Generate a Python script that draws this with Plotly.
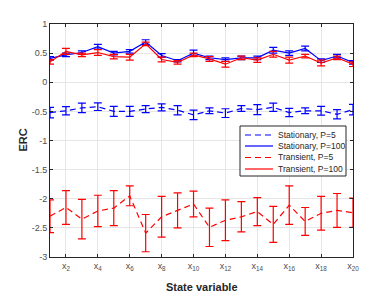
import plotly.graph_objects as go

x_idx = list(range(1, 21))
tick_vals = list(range(2, 21, 2))
tick_text = [f"x<sub>{i}</sub>" for i in tick_vals]
y_tick_vals = [-3, -2.5, -2, -1.5, -1, -0.5, 0, 0.5, 1]
y_tick_text = ["-3", "-2.5", "-2", "-1.5", "-1", "-0.5", "0", "0.5", "1"]

stat_p5 = [-0.52, -0.49, -0.44, -0.42, -0.50, -0.50, -0.46, -0.43, -0.48, -0.56,
           -0.49, -0.53, -0.45, -0.47, -0.43, -0.52, -0.49, -0.49, -0.55, -0.47]
stat_p5_err = [0.09, 0.07, 0.08, 0.065, 0.085, 0.085, 0.06, 0.06, 0.08, 0.08,
               0.05, 0.075, 0.05, 0.085, 0.07, 0.07, 0.05, 0.075, 0.08, 0.09]

stat_p100 = [0.41, 0.47, 0.51, 0.61, 0.50, 0.53, 0.69, 0.46, 0.37, 0.50,
             0.42, 0.39, 0.42, 0.42, 0.55, 0.50, 0.58, 0.37, 0.45, 0.34]
stat_p100_err = [0.03, 0.03, 0.03, 0.04, 0.03, 0.03, 0.04, 0.03, 0.02, 0.05,
                 0.03, 0.03, 0.03, 0.03, 0.05, 0.04, 0.04, 0.03, 0.03, 0.03]

trans_p5 = [-2.30, -2.15, -2.35, -2.21, -2.16, -1.95, -2.59, -2.31, -2.20, -2.09,
            -2.49, -2.37, -2.31, -2.22, -2.44, -2.11, -2.39, -2.25, -2.20, -2.24]
trans_p5_err = [0.28, 0.29, 0.34, 0.27, 0.30, 0.17, 0.32, 0.35, 0.30, 0.22,
                0.33, 0.35, 0.26, 0.24, 0.31, 0.33, 0.24, 0.29, 0.29, 0.25]

trans_p100 = [0.35, 0.53, 0.47, 0.51, 0.44, 0.43, 0.66, 0.39, 0.34, 0.47,
              0.40, 0.31, 0.42, 0.38, 0.48, 0.38, 0.45, 0.33, 0.42, 0.31]
trans_p100_err = [0.04, 0.05, 0.03, 0.05, 0.04, 0.05, 0.03, 0.04, 0.03, 0.03,
                  0.04, 0.05, 0.03, 0.04, 0.05, 0.05, 0.03, 0.05, 0.03, 0.04]

legend_names = ["Stationary, P=5", "Stationary, P=100", "Transient, P=5", "Transient, P=100"]

BLUE = "rgb(0,0,255)"
RED = "rgb(255,0,0)"
DASH = "6px,4px"

series = [
    (stat_p5, stat_p5_err, BLUE, DASH),
    (stat_p100, stat_p100_err, BLUE, "solid"),
    (trans_p5, trans_p5_err, RED, DASH),
    (trans_p100, trans_p100_err, RED, "solid"),
]

fig = go.Figure()
for (y, e, c, d), name in zip(series, legend_names):
    fig.add_trace(go.Scatter(
        x=x_idx, y=y, mode="lines", name=name,
        line=dict(color=c, width=1.2, dash=d),
        error_y=dict(type="data", array=e, visible=True, color=c, thickness=1.2, width=4),
        showlegend=False, cliponaxis=False,
    ))

# page body has a default 8px offset; plot area target (window px): 50..353 x 24..257
OFF = 8
W, H = 390, 293
L, R, T, B = 50, 353, 24, 257


def px(xp):
    return (xp - L) / (R - L)


def py(yp):
    return (B - yp) / (B - T)


shapes = [dict(type="rect", xref="paper", yref="paper",
               x0=px(240), x1=px(346), y0=py(176), y1=py(126),
               line=dict(color="#262626", width=1), fillcolor="white", layer="above")]
annotations = []
rows = [135, 146, 157.5, 169]
for (y, e, c, d), name, ry in zip(series, legend_names, rows):
    shapes.append(dict(type="line", xref="paper", yref="paper",
                       x0=px(245), x1=px(273), y0=py(ry), y1=py(ry),
                       line=dict(color=c, width=1.2, dash=d), layer="above"))
    annotations.append(dict(xref="paper", yref="paper", x=px(276), y=py(ry),
                            xanchor="left", yanchor="middle", text=name, showarrow=False,
                            font=dict(size=8.5, color="#262626")))

annotations.append(dict(xref="paper", yref="paper", x=px(202), y=py(287),
                        xanchor="center", yanchor="middle", text="<b>State variable</b>",
                        showarrow=False, font=dict(size=11, color="#262626")))
annotations.append(dict(xref="paper", yref="paper", x=px(22), y=0.5,
                        xanchor="center", yanchor="middle", text="<b>ERC</b>", textangle=-90,
                        showarrow=False, font=dict(size=11, color="#262626")))

fig.update_layout(
    width=W, height=H,
    margin=dict(l=L - OFF, r=W - (R - OFF), t=T - OFF, b=H - (B - OFF)),
    paper_bgcolor="white", plot_bgcolor="white",
    font=dict(family="Liberation Sans, Arial, sans-serif", size=9, color="#262626"),
    shapes=shapes, annotations=annotations,
    showlegend=False,
)
fig.update_xaxes(
    range=[1, 20], tickmode="array", tickvals=tick_vals, ticktext=tick_text,
    showgrid=True, gridcolor="#e6e6e6", gridwidth=1, zeroline=False,
    showline=True, linecolor="#262626", linewidth=1, mirror="ticks",
    ticks="inside", ticklen=3, tickcolor="#262626", automargin=False,
    tickfont=dict(size=9, color="#4d4d4d"),
)
fig.update_yaxes(
    range=[-3, 1], tickmode="array", tickvals=y_tick_vals, ticktext=y_tick_text,
    showgrid=True, gridcolor="#e6e6e6", gridwidth=1, zeroline=False,
    showline=True, linecolor="#262626", linewidth=1, mirror="ticks",
    ticks="inside", ticklen=3, tickcolor="#262626", automargin=False,
    tickfont=dict(size=9, color="#4d4d4d"),
)

fig.write_html("out.html")
